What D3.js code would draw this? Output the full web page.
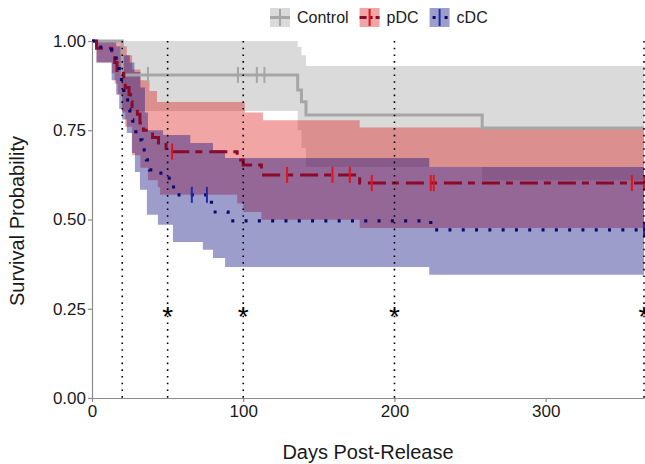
<!DOCTYPE html>
<html><head><meta charset="utf-8">
<script src="https://cdn.jsdelivr.net/npm/d3@7"></script>
<style>
body{margin:0;background:#fff;}
text{font-family:"Liberation Sans",Arial,sans-serif;}
</style></head>
<body><svg id="chart" width="645" height="464"></svg>
<script>
// ---------------- data ----------------
const groups = ["Control", "pDC", "cDC"];
const xTicks = [0, 100, 200, 300];
const yTicks = [0, 0.25, 0.5, 0.75, 1];
const refDays = [20, 50, 100, 200, 365];
const starDays = [50, 100, 200, 365];
const starLevel = 0.25;

// Control
const controlSurv  = [[0,1],[20,0.905],[136,0.863],[138.5,0.83],[141.5,0.793],[258,0.756]];
const controlUpper = [[0,1],[136,0.983],[138.5,0.96],[141.5,0.93]];
const controlLower = [[0,1],[20,0.804],[136,0.75],[138.5,0.70],[141.5,0.647],[258,0.61]];
const controlCensor = [37, 96.5, 109, 114];

// pDC
const pdcSurv  = [[0,1],[3,0.98],[13,0.96],[15,0.94],[16.5,0.91],[21,0.89],[22,0.87],[24.5,0.85],[25.5,0.83],[26.5,0.81],[30,0.795],[31.7,0.77],[34,0.75],[40,0.73],[44,0.71],[49,0.69],[96,0.667],[100,0.653],[112,0.625],[177,0.602]];
const pdcUpper = [[0,1],[20.5,0.985],[23,0.96],[26.5,0.92],[32,0.89],[38,0.86],[43,0.829],[101,0.80],[113,0.778],[177,0.758]];
const pdcLower = [[0,1],[3,0.94],[13,0.91],[15,0.88],[17,0.85],[20,0.80],[22,0.76],[26.5,0.68],[32,0.645],[37,0.61],[43.5,0.59],[45,0.569],[96,0.545],[100,0.521],[112,0.499],[177,0.476]];
const pdcCensor = [53, 129, 159, 170.5, 185, 224, 226, 357, 365];

// cDC
const cdcSurv  = [[0,1],[3,0.983],[13,0.952],[16,0.93],[18,0.905],[19.5,0.877],[21,0.855],[22.5,0.835],[23.5,0.807],[25,0.779],[27,0.756],[29,0.723],[33,0.695],[36,0.667],[38,0.639],[43,0.63],[48,0.616],[52.5,0.591],[56,0.569],[79,0.521],[90,0.496],[224,0.471]];
const cdcUpper = [[0,1],[16,0.985],[19,0.96],[25,0.94],[28,0.913],[32,0.87],[35,0.80],[37,0.75],[47,0.737],[65,0.714],[80,0.695],[88,0.672],[223,0.647]];
const cdcLower = [[0,1],[3,0.94],[13,0.89],[16,0.85],[18,0.81],[20,0.78],[23,0.742],[26.4,0.686],[28.4,0.633],[31.7,0.583],[36.3,0.513],[43.6,0.485],[53.5,0.437],[73.3,0.415],[80,0.392],[88,0.367],[223,0.345]];
const cdcCensor = [66, 76, 365];

const maxDay = 365;

// ---------------- styles ----------------
const styles = {
  Control: {band:"#a3a3a3", line:"#a6a6a6", censor:"#a6a6a6", dash:null, width:3, cap:"butt"},
  pDC:     {band:"#dc1e1e", line:"#8a0a2c", censor:"#e0141c", dash:"18,6,7,7", width:3, cap:"butt"},
  cDC:     {band:"#0a0a80", line:"#0a0a6e", censor:"#1f2ea6", dash:"3,10.3", width:3.2, cap:"butt"}
};
const bandAlpha = 0.4;

const series = [
  {name:"Control", surv:controlSurv, upper:controlUpper, lower:controlLower, censor:controlCensor},
  {name:"pDC", surv:pdcSurv, upper:pdcUpper, lower:pdcLower, censor:pdcCensor},
  {name:"cDC", surv:cdcSurv, upper:cdcUpper, lower:cdcLower, censor:cdcCensor}
];

// ---------------- helpers ----------------
function stepVal(arr, t){ let v = arr[0][1]; for(const p of arr){ if(p[0] <= t) v = p[1]; } return v; }
function bandPoints(up, lo){
  const ts = Array.from(new Set(up.map(d=>d[0]).concat(lo.map(d=>d[0])).concat([maxDay]))).sort((a,b)=>a-b);
  return ts.map(t=>({t, u:stepVal(up,t), l:stepVal(lo,t)}));
}

// ---------------- chart ----------------
const svg = d3.select("#chart");
const x = d3.scaleLinear().domain([0, maxDay]).range([92, 644]);
const y = d3.scaleLinear().domain([0, 1]).range([398, 41]);

svg.append("defs").append("clipPath").attr("id","clip")
  .append("rect").attr("x", 92).attr("y", 0).attr("width", 553).attr("height", 399);

const panel = svg.append("g").attr("clip-path","url(#clip)");

// bands
const area = d3.area().curve(d3.curveStepAfter)
  .x(d=>x(d.t)).y0(d=>y(d.l)).y1(d=>y(d.u));
series.forEach(s=>{
  panel.append("path").datum(bandPoints(s.upper, s.lower))
    .attr("d", area).attr("fill", styles[s.name].band).attr("fill-opacity", bandAlpha);
});

// lines
const line = d3.line().curve(d3.curveStepAfter).x(d=>x(d[0])).y(d=>y(d[1]));
series.forEach(s=>{
  const st = styles[s.name];
  const pts = s.surv.concat([[maxDay, s.surv[s.surv.length-1][1]]]);
  const p = panel.append("path").datum(pts).attr("d", line)
    .attr("fill","none").attr("stroke", st.line).attr("stroke-width", st.width)
    .attr("stroke-linecap", st.cap);
  if(st.dash) p.attr("stroke-dasharray", st.dash);
});

// censor marks
series.forEach(s=>{
  const st = styles[s.name];
  panel.selectAll(null).data(s.censor).enter().append("line")
    .attr("x1", d=>x(d)).attr("x2", d=>x(d))
    .attr("y1", d=>y(stepVal(s.surv,d))-8).attr("y2", d=>y(stepVal(s.surv,d))+8)
    .attr("stroke", st.censor).attr("stroke-width", 2);
});

// reference dotted lines
svg.selectAll(null).data(refDays).enter().append("line")
  .attr("x1", d=>x(d)).attr("x2", d=>x(d)).attr("y1", y(1)).attr("y2", y(0))
  .attr("stroke","#000").attr("stroke-width",1.6).attr("stroke-dasharray","1.6,5.1");

// stars
svg.selectAll(null).data(starDays).enter().append("text")
  .attr("x", d=>x(d)).attr("y", y(starLevel)+17).attr("text-anchor","middle")
  .attr("font-size", 28).attr("fill","#000").text("*");

// axes
const gy = svg.append("g").attr("transform","translate(92,0)")
  .call(d3.axisLeft(y).tickValues(yTicks).tickFormat(d3.format(".2f")).tickSize(4).tickSizeOuter(0).tickPadding(2));
const gx = svg.append("g").attr("transform","translate(0,398)")
  .call(d3.axisBottom(x).tickValues(xTicks).tickFormat(d3.format("d")).tickSize(4).tickSizeOuter(0).tickPadding(3));
[gx, gy].forEach(g=>{
  g.select(".domain").attr("stroke","#8c8c8c").attr("stroke-width",1.2);
  g.selectAll(".tick line").attr("stroke","#8c8c8c").attr("stroke-width",1.2);
  g.selectAll(".tick text").attr("font-size",17).attr("fill","#1a1a1a")
    .attr("font-family",'"Liberation Sans",Arial,sans-serif');
});

// axis titles
svg.append("text").attr("x", 368).attr("y", 459).attr("text-anchor","middle")
  .attr("font-size",20).attr("fill","#1a1a1a").text("Days Post-Release");
svg.append("text").attr("transform","translate(24,221) rotate(-90)").attr("text-anchor","middle")
  .attr("font-size",20).attr("fill","#1a1a1a").text("Survival Probability");

// legend
const legend = svg.append("g");
let lx = 270;
groups.forEach(g=>{
  const st = styles[g];
  const k = legend.append("g").attr("transform",`translate(${lx},8)`);
  k.append("rect").attr("width",20).attr("height",19).attr("fill",st.band).attr("fill-opacity",bandAlpha);
  const hl = k.append("line").attr("x1",0).attr("x2",20).attr("y1",9.5).attr("y2",9.5)
    .attr("stroke",st.line).attr("stroke-width",st.width);
  if(g==="pDC") hl.attr("stroke-dasharray","7,3,3,3");
  if(g==="cDC") hl.attr("stroke-dasharray","3,9").attr("stroke-dashoffset",-3);
  k.append("line").attr("x1",10).attr("x2",10).attr("y1",1).attr("y2",18)
    .attr("stroke",st.censor).attr("stroke-width",2);
  const t = legend.append("text").attr("x", lx+27).attr("y", 23).attr("font-size",16)
    .attr("fill","#1a1a1a").text(g);
  lx += 27 + t.node().getComputedTextLength() + 11;
});
</script></body></html>
